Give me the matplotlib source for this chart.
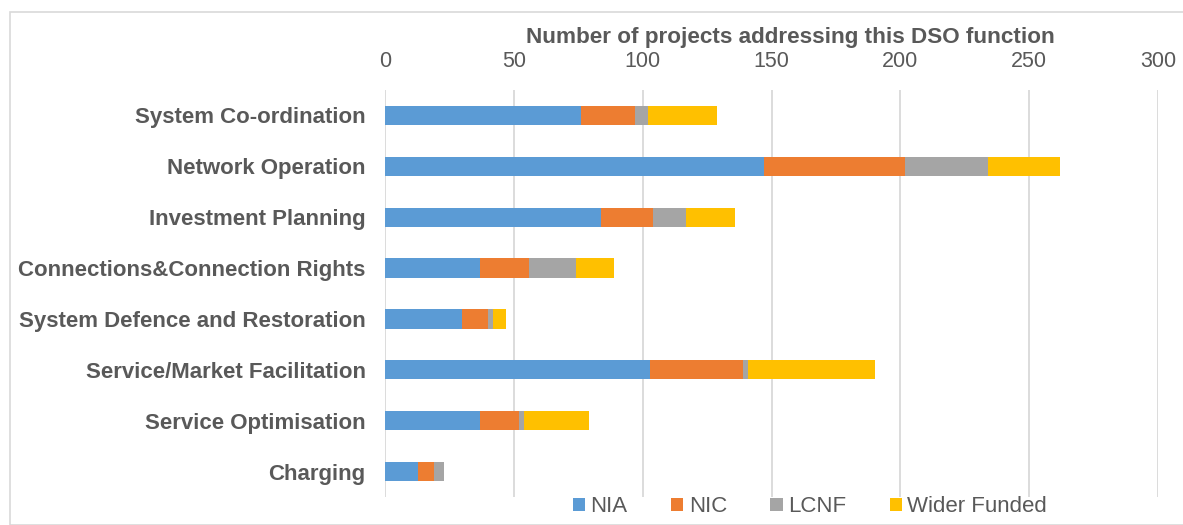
import matplotlib.pyplot as plt
from matplotlib.patches import Rectangle
import numpy as np

plt.rcParams['font.family'] = ['Liberation Sans', 'DejaVu Sans']

# DSO functions, top to bottom
functions = ['System Co-ordination', 'Network Operation', 'Investment Planning',
             'Connections&Connection Rights', 'System Defence and Restoration',
             'Service/Market Facilitation', 'Service Optimisation', 'Charging']
nia = [76, 147, 84, 37, 30, 103, 37, 13]
nic = [21, 55, 20, 19, 10, 36, 15, 6]
lcnf = [5, 32, 13, 18, 2, 2, 2, 4]
wider = [27, 28, 19, 15, 5, 49, 25, 0]

series = [('NIA', nia, '#5B9BD5'), ('NIC', nic, '#ED7D31'),
          ('LCNF', lcnf, '#A5A5A5'), ('Wider Funded', wider, '#FFC000')]
xticks = [0, 50, 100, 150, 200, 250, 300]
grey = '#595959'

fig = plt.figure(figsize=(11.83, 5.25), dpi=100)
fig.patches.append(Rectangle((10 / 1183, 0), 1.0, 1 - 12 / 525, transform=fig.transFigure,
                             fill=False, edgecolor='#d9d9d9', linewidth=1.2))
ax = fig.add_axes([385 / 1183, 28 / 525, 773 / 1183, 407 / 525])

y = np.arange(len(functions))
left = np.zeros(len(functions))
for name, vals, col in series:
    ax.barh(y, vals, left=left, height=0.38, color=col, label=name, zorder=3)
    left += np.array(vals)

ax.set_xlim(0, 300)
ax.set_ylim(len(functions) - 0.5, -0.5)
ax.set_xticks(xticks)
ax.xaxis.tick_top()
ax.xaxis.set_label_position('top')
ax.tick_params(axis='x', length=0, labelsize=15.5, labelcolor=grey, pad=13)
ax.tick_params(axis='y', length=0, pad=14)
ax.set_yticks(y)
ax.set_yticklabels(functions, fontsize=16, fontweight='bold', color=grey)
ax.set_xlabel('Number of projects addressing this DSO function', fontsize=16.2,
              fontweight='bold', color=grey, labelpad=6)
ax.xaxis.label.set_x(0.524)
ax.grid(axis='x', color='#d9d9d9', linewidth=1.3, zorder=0)
for s in ax.spines.values():
    s.set_visible(False)

ax.legend(loc='center', bbox_to_anchor=(810 / 1183, 18 / 525), bbox_transform=fig.transFigure,
          ncol=4, frameon=False, fontsize=16, labelcolor=grey, handlelength=0.55,
          handleheight=0.55, handletextpad=0.25, columnspacing=1.95)

fig.savefig('out.png', dpi=100)
